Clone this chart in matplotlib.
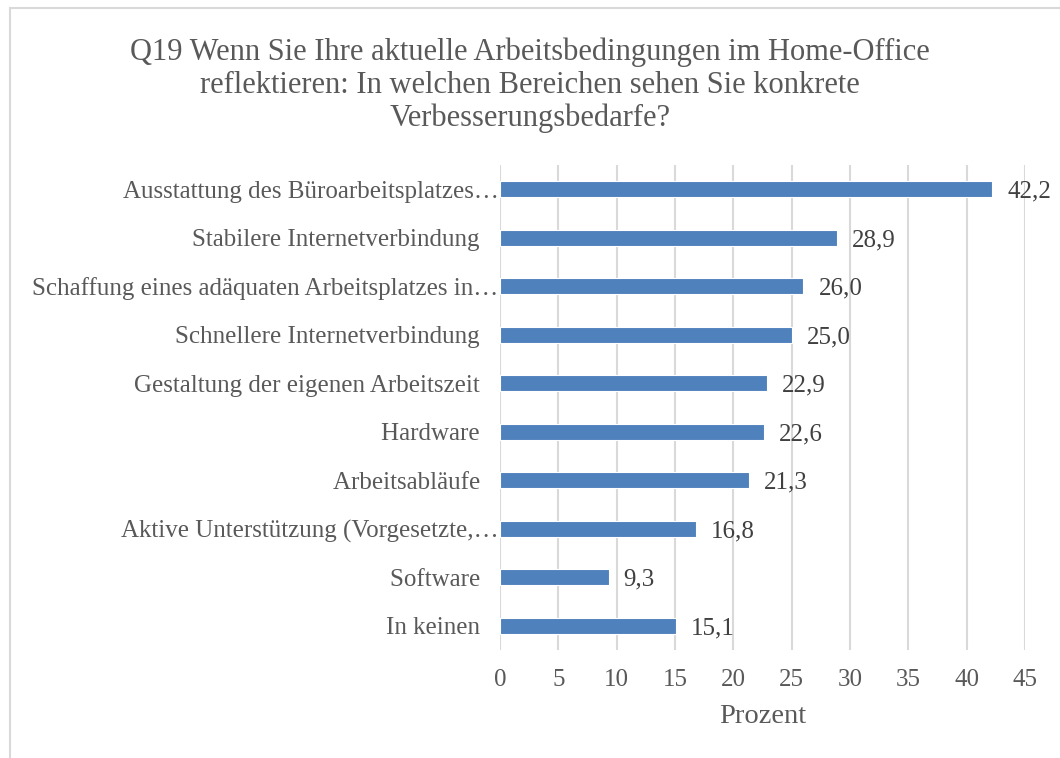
import matplotlib
matplotlib.use("Agg")
import matplotlib.pyplot as plt
from matplotlib.patches import Rectangle

categories = [
    "Ausstattung des Büroarbeitsplatzes…",
    "Stabilere Internetverbindung   ",
    "Schaffung eines adäquaten Arbeitsplatzes in…",
    "Schnellere Internetverbindung   ",
    "Gestaltung der eigenen Arbeitszeit   ",
    "Hardware   ",
    "Arbeitsabläufe   ",
    "Aktive Unterstützung (Vorgesetzte,…",
    "Software   ",
    "In keinen   ",
]
values = [42.2, 28.9, 26.0, 25.0, 22.9, 22.6, 21.3, 16.8, 9.3, 15.1]
xticks = [0, 5, 10, 15, 20, 25, 30, 35, 40, 45]
title_lines = ["Q19 Wenn Sie Ihre aktuelle Arbeitsbedingungen im Home-Office",
               "reflektieren: In welchen Bereichen sehen Sie konkrete",
               "Verbesserungsbedarfe?"]
xlabel = "Prozent"

plt.rcParams['font.family'] = ['Liberation Serif', 'DejaVu Serif']
txt = '#595959'

fig = plt.figure(figsize=(10.6, 7.58), dpi=100)
fig.patches.append(Rectangle((10/1060, -0.01), 1.2, 1 - 8/758 + 0.01,
                             transform=fig.transFigure, fill=False,
                             edgecolor='#d9d9d9', linewidth=1.5))
ax = fig.add_axes([500/1060, 1 - 650/758, 525/1060, 485/758])

y = list(range(len(categories)))
ax.barh(y, values, height=0.33, color='#4f81bd', edgecolor='white', linewidth=0.8, zorder=3)
for yi, v in zip(y, values):
    ax.text(v + 1.3, yi + 0.05, f"{v:.1f}".replace('.', ','), va='center', ha='left',
            fontsize=18, color='#404040')

ax.set_ylim(len(categories) - 0.5, -0.5)
ax.set_xlim(0, 45)
ax.set_xticks(xticks)
ax.set_xticklabels([str(t) for t in xticks])
ax.set_yticks(y)
ax.set_yticklabels(categories)
ax.tick_params(axis='both', length=0, labelsize=18, labelcolor=txt)
ax.tick_params(axis='x', pad=14)
ax.tick_params(axis='y', pad=1)
ax.grid(axis='x', color='#d9d9d9', linewidth=1.5, zorder=0)
for s in ax.spines.values():
    s.set_visible(False)
ax.set_xlabel(xlabel, fontsize=20.5, color=txt, labelpad=9)

for i, line in enumerate(title_lines):
    fig.text(0.5, 1 - (60 + 33 * i) / 758, line, ha='center', va='baseline',
             fontsize=22, color=txt)

fig.savefig('out.png', dpi=100)
